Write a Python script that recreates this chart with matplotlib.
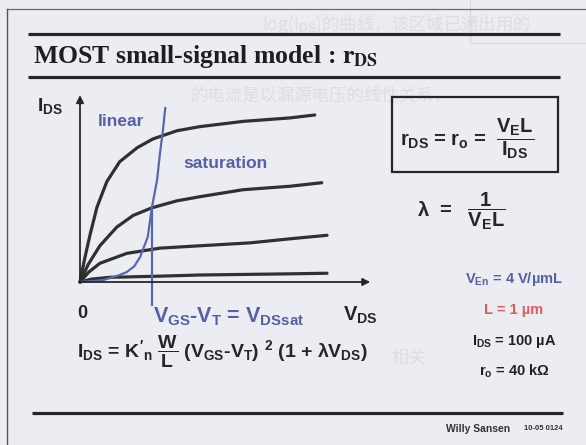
import matplotlib.pyplot as plt
from matplotlib.patches import Rectangle

# Output characteristics, I_DS versus V_DS (arbitrary units), four gate voltages
vds_1 = [0, 0.08, 0.17, 0.29, 0.46, 0.68, 0.98, 1.25, 1.66, 2.05, 2.79, 3.60, 4.02]
ids_1 = [0, 0.40, 0.80, 1.28, 1.72, 2.06, 2.30, 2.45, 2.59, 2.66, 2.75, 2.81, 2.86]

vds_2 = [0, 0.14, 0.34, 0.63, 0.91, 1.23, 1.66, 2.05, 2.79, 3.60, 4.14]
ids_2 = [0, 0.30, 0.62, 0.94, 1.14, 1.27, 1.39, 1.46, 1.58, 1.64, 1.70]

vds_3 = [0, 0.15, 0.34, 0.80, 1.37, 2.05, 2.91, 3.60, 4.23]
ids_3 = [0, 0.17, 0.32, 0.49, 0.58, 0.62, 0.67, 0.74, 0.80]

vds_4 = [0, 0.20, 0.51, 1.37, 2.05, 3.60, 4.23]
ids_4 = [0, 0.05, 0.08, 0.10, 0.12, 0.14, 0.15]

# Boundary between linear and saturation region
vds_sat = [0, 0.39, 0.68, 0.80, 0.93, 1.03, 1.16, 1.23, 1.32, 1.37, 1.42, 1.46]
ids_sat = [0, 0.03, 0.12, 0.17, 0.27, 0.43, 0.77, 1.27, 1.75, 2.21, 2.60, 2.98]
vdsat_mark = 1.23
vdsat_ids = 1.27

params = [("V$_{En}$ = 4 V/µmL", "#5560aa"),
          ("L = 1 µm", "#e25a5a"),
          ("I$_{DS}$ = 100 µA", "#222222"),
          ("r$_{o}$ = 40 kΩ", "#222222")]

# faint text showing through from the other side of the page
ghost_lines = [(262, 24, "log(I$_{DS}$)的曲线，该区域已通出用的"),
               (190, 95, "的电流是以漏源电压的线性关系，"),
               (392, 357, "相关")]

plt.rcParams['mathtext.fontset'] = 'custom'
plt.rcParams['mathtext.rm'] = 'Liberation Sans:bold'
plt.rcParams['mathtext.it'] = 'Liberation Sans:bold'
plt.rcParams['mathtext.bf'] = 'Liberation Sans:bold'
plt.rcParams['mathtext.sf'] = 'Liberation Sans:bold'

W, H = 586, 445
bg = '#ebedf2'
ink = '#262626'
blue = '#5560aa'

fig = plt.figure(figsize=(W / 100, H / 100), dpi=100, facecolor=bg)

# page layer in pixel coordinates
lay = fig.add_axes([0, 0, 1, 1])
lay.set_xlim(0, W)
lay.set_ylim(H, 0)
lay.axis('off')

for gx, gy, gs in ghost_lines:
    lay.text(gx, gy, gs, fontsize=12.5, color='#dcdee4', va='center', ha='left',
             family=['Noto Sans CJK SC', 'DejaVu Sans'], zorder=0)
lay.add_patch(Rectangle((470, -5), 130, 48, fill=False, ec='#d6d8de', lw=0.8, zorder=0))

# slide frame and rules
lay.plot([7, W], [9, 9], color='#6a6a6a', lw=0.9)
lay.plot([7, 7], [9, H], color='#555555', lw=1.0)
lay.plot([28, 560], [34, 34], color=ink, lw=2.3, solid_capstyle='butt')
lay.plot([28, 560], [77, 77], color=ink, lw=2.3, solid_capstyle='butt')
lay.plot([32, 563], [413, 413], color=ink, lw=2.3, solid_capstyle='butt')

lay.text(33, 57, r"MOST small-signal model : $\mathbf{r_{DS}}$", fontsize=18.5,
         family='Liberation Serif', weight='bold', color='#1e1e1e',
         va='center', ha='left', math_fontfamily='stix')

lay.text(510, 429, "Willy Sansen", fontsize=7.5, weight='bold', family='Liberation Sans',
         color='#333333', ha='right', va='center')
lay.text(563, 429, "10-05 0124", fontsize=5.5, weight='bold', family='Liberation Sans',
         color='#333333', ha='right', va='center')

sans = dict(family='Liberation Sans', weight='bold')

# axis labels
lay.text(37, 106, r"$I_{DS}$", fontsize=14, color=ink, ha='left', va='center', **sans)
lay.text(82, 313, "0", fontsize=13, color=ink, ha='center', va='center', **sans)
lay.text(343, 315, r"$V_{DS}$", fontsize=14.5, color=ink, ha='left', va='center', **sans)
lay.text(153, 317, r"$V_{GS}$-$V_{T}$ = $V_{DSsat}$", fontsize=15.5, color=blue,
         ha='left', va='center', **sans)
lay.text(98, 121, "linear", fontsize=12.5, color=blue, ha='left', va='center', **sans)
lay.text(183, 164, "saturation", fontsize=12.5, color=blue, ha='left', va='center', **sans)

# drain current equation
lay.text(77, 352, r"$I_{DS}$ = $K'_{n}$ $\dfrac{W}{L}$ ($V_{GS}$-$V_{T}$) $^{2}$ (1 + $\lambda V_{DS}$)",
         fontsize=14, color=ink, ha='left', va='center', **sans)

# output resistance box
lay.add_patch(Rectangle((392, 97), 166, 75, fill=False, ec=ink, lw=1.6))
lay.text(400, 139, r"$r_{DS}$ = $r_{o}$ =  $\dfrac{V_{E}L}{I_{DS}}$", fontsize=14.5,
         color=ink, ha='left', va='center', **sans)
lay.text(417, 211, r"$\lambda$  =   $\dfrac{1}{V_{E}L}$", fontsize=14.5,
         color=ink, ha='left', va='center', **sans)

for (txt, col), py in zip(params, [279, 310, 342, 371]):
    lay.text(514, py, txt, fontsize=10.5, color=col, ha='center', va='center', **sans)

# I-V plot in data units
px_per_unit = 58.4
x0, y0 = 80, 282
ax = fig.add_axes([x0 / W, (H - y0) / H, 5.1 * px_per_unit / W, 3.25 * px_per_unit / H])
ax.set_xlim(0, 5.1)
ax.set_ylim(0, 3.25)
ax.axis('off')
ax.patch.set_alpha(0)

for vx, iy in [(vds_1, ids_1), (vds_2, ids_2), (vds_3, ids_3), (vds_4, ids_4)]:
    ax.plot(vx, iy, color='#303030', lw=2.3, solid_capstyle='round',
            solid_joinstyle='round', clip_on=False)

ax.plot(vds_sat, ids_sat, color='#5a66b4', lw=1.6, clip_on=False,
        solid_joinstyle='round')
ax.plot([vdsat_mark, vdsat_mark], [vdsat_ids, -0.39], color='#5a66b4', lw=1.6,
        clip_on=False)

arrow = dict(arrowstyle='-|>', color=ink, lw=1.3, mutation_scale=11, shrinkA=0, shrinkB=0)
ax.annotate('', xy=(4.97, 0), xytext=(0, 0), arrowprops=arrow, annotation_clip=False)
ax.annotate('', xy=(0, 3.2), xytext=(0, 0), arrowprops=arrow, annotation_clip=False)

fig.savefig('out.png', dpi=100, facecolor=bg)
